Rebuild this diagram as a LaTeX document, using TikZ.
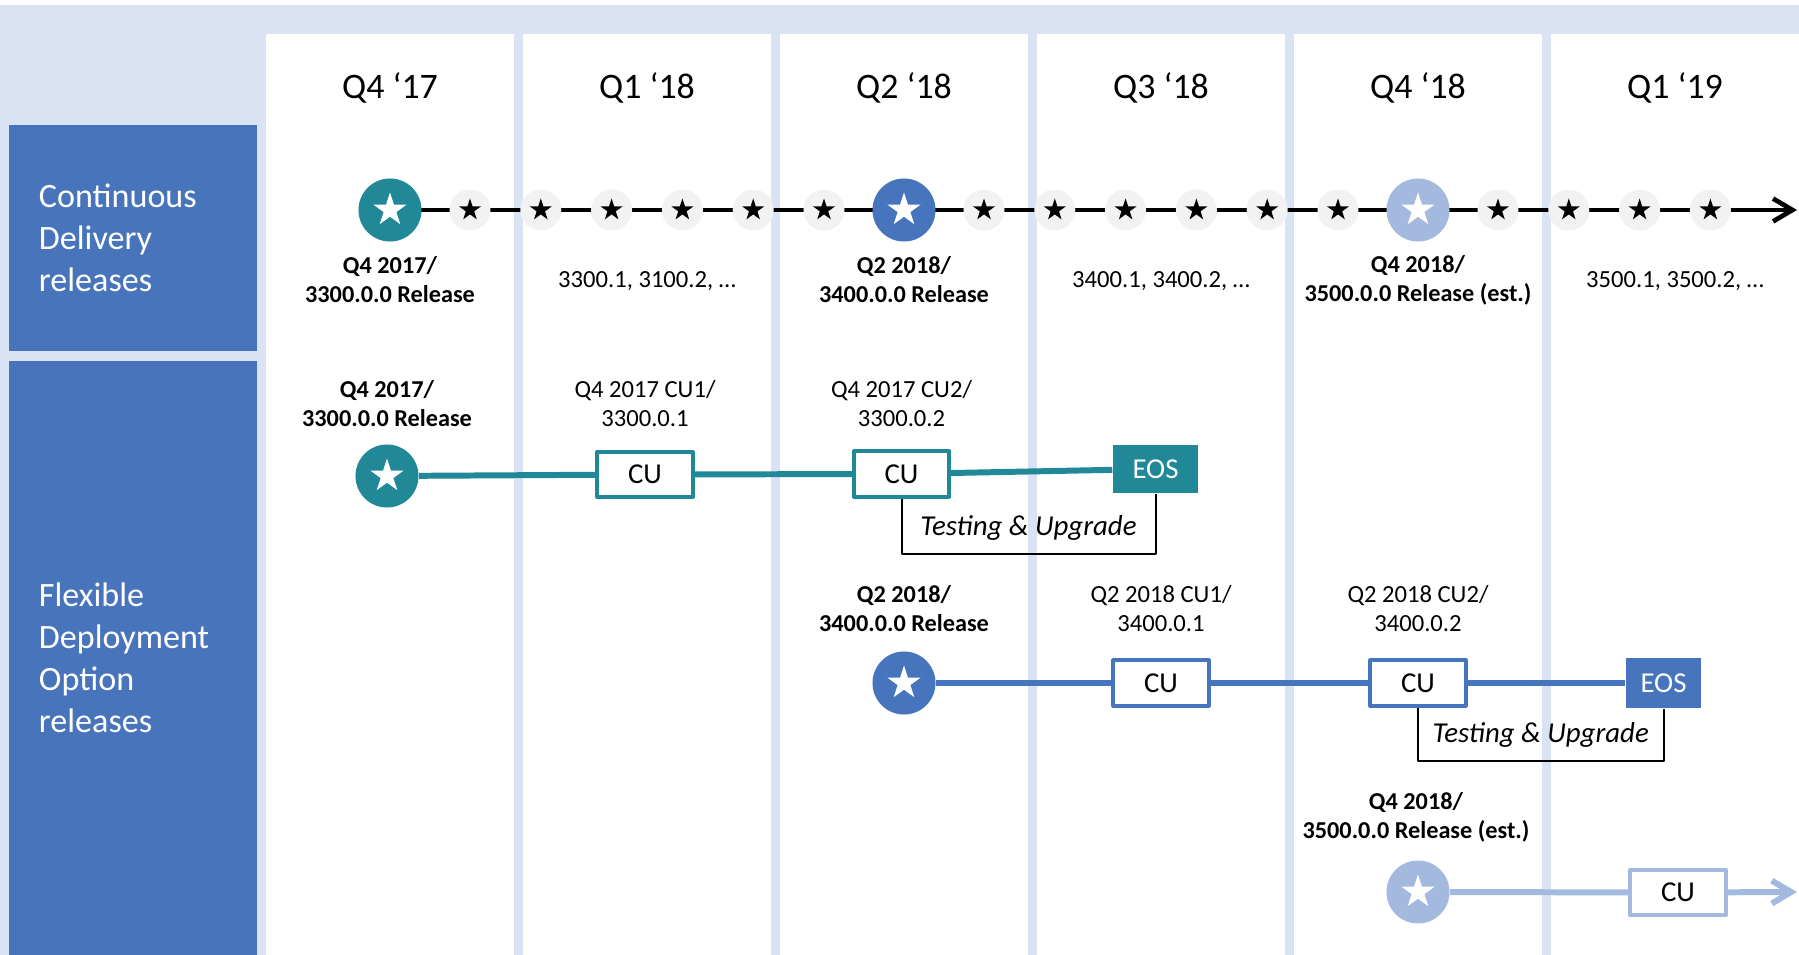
\documentclass[tikz,border=0pt]{standalone}
\usepackage{fontspec}
\setmainfont{Carlito}
\usetikzlibrary{shapes.geometric,arrows.meta}

\definecolor{paleblue}{RGB}{218,227,243}
\definecolor{laneblue}{RGB}{72,116,188}
\definecolor{tealrel}{RGB}{33,136,151}
\definecolor{bluerel}{RGB}{71,117,189}
\definecolor{lightrel}{RGB}{163,185,222}
\definecolor{dotgrey}{RGB}{242,242,242}

\begin{document}
\begin{tikzpicture}[
	x=0.01cm, y=-0.01cm,
	>={Straight Barb[length=5.5pt,width=6.5pt]},
	line join=round,
	quarter/.style={font=\fontsize{10.2}{12}\selectfont},
	lanebox/.style={fill=laneblue, text=white, minimum width=2.48cm, text width=1.88cm, inner xsep=0.3cm, align=left, font=\fontsize{9.7}{11.95}\selectfont},
	relstar/.style={star, star points=5, star point ratio=2.618, inner sep=0pt, fill=#1},
	bigrel/.style={circle, fill=#1, minimum size=0.63cm, inner sep=0pt, path picture={\node[relstar=white, minimum size=0.35cm] at (path picture bounding box.center) {};}},
	minirel/.style={circle, fill=dotgrey, minimum size=0.41cm, inner sep=0pt, path picture={\node[relstar=black, minimum size=0.23cm] at (path picture bounding box.center) {};}},
	cubox/.style={draw=#1, line width=1.14pt, fill=white, minimum width=0.95cm, minimum height=0.45cm, inner sep=0pt, font=\fontsize{8.2}{10}\selectfont},
	eosbox/.style={fill=#1, text=white, inner sep=0pt, font=\fontsize{8.2}{10}\selectfont},
	relnote/.style={align=center, font=\fontsize{7}{8.25}\selectfont},
	keynote/.style={align=center, font=\fontsize{6.9}{8.25}\selectfont\bfseries},
	upgrade/.style={font=\fontsize{8.2}{10}\selectfont\itshape, inner sep=3.5pt},
	cdline/.style={line width=1.33pt},
	laneline/.style={draw=#1, line width=1.7pt},
	bracket/.style={line width=0.57pt}
	]
	\useasboundingbox (0,0) rectangle (1799,955);
	\fill[white] (0,0) rectangle (1799,955);
	\fill[paleblue] (0,5) rectangle (1799,955);
	% quarters
	\foreach \qname [count=\i from 0] in {Q4 ‘17,Q1 ‘18,Q2 ‘18,Q3 ‘18,Q4 ‘18,Q1 ‘19} {
		\fill[white] ({266+257*\i},34) rectangle +(248,921);
		\node[quarter] (q\i) at ({390+257*\i},88) {\qname};
	}
	% lanes
	\node[lanebox, minimum height=2.26cm] (cdlane) at (133,238) {Continuous\\Delivery\\releases};
	\node[lanebox, minimum height=5.94cm] (fdlane) at (133,658) {Flexible\\Deployment\\Option\\releases};

	% continuous delivery
	\coordinate (cdstart) at (390,210);
	\coordinate (cdend) at (1797,210);
	\draw[cdline,->] (cdstart) -- (cdend);
	\foreach \b/\n in {390/6,904/6,1418/4} {
		\foreach \k in {1,...,\n}
			\node[minirel] (m\b-\k) at ({\b+80+70.8*(\k-1)},210) {};
	}
	\node[bigrel=tealrel] (cd1) at (390,210) {};
	\node[bigrel=bluerel] (cd2) at (904,210) {};
	\node[bigrel=lightrel] (cd3) at (1418,210) {};
	\node[keynote] (cd1note) at (390,280) {Q4 2017/\\3300.0.0 Release};
	\node[relnote] (cd1cu) at (647,281) {3300.1, 3100.2, …};
	\node[keynote] (cd2note) at (904,280) {Q2 2018/\\3400.0.0 Release};
	\node[relnote] (cd2cu) at (1161,281) {3400.1, 3400.2, …};
	\node[keynote] (cd3note) at (1418,280) {Q4 2018/\\3500.0.0 Release (est.)};
	\node[relnote] (cd3cu) at (1675,281) {3500.1, 3500.2, …};

	% flexible deployment, 3300
	\node[bigrel=tealrel] (fa0) at (387,476) {};
	\node[cubox=tealrel] (fa1) at (645,474.5) {CU};
	\node[cubox=tealrel] (fa2) at (901.5,474) {CU};
	\node[eosbox=tealrel, minimum width=0.85cm, minimum height=0.48cm] (fa3) at (1155.5,469) {EOS};
	\draw[laneline=tealrel] (fa0) -- (fa1) -- (fa2) -- (fa3);
	\node[keynote] (fa0note) at (387,404) {Q4 2017/\\3300.0.0 Release};
	\node[relnote] (fa1note) at (645,404) {Q4 2017 CU1/\\3300.0.1};
	\node[relnote] (fa2note) at (901.5,404) {Q4 2017 CU2/\\3300.0.2};
	\coordinate (fab1) at (fa2.south |- 0,554);
	\coordinate (fab2) at (fa3.south |- 0,554);
	\draw[bracket] (fa2.south) -- (fab1) -- node[upgrade,above] (faup) {Testing \& Upgrade} (fab2) -- (fa3.south);

	% flexible deployment, 3400
	\node[bigrel=bluerel] (fb0) at (904,683) {};
	\node[cubox=bluerel] (fb1) at (1161,683) {CU};
	\node[cubox=bluerel] (fb2) at (1418,683) {CU};
	\node[eosbox=bluerel, minimum width=0.75cm, minimum height=0.50cm] (fb3) at (1663.5,683) {EOS};
	\draw[laneline=bluerel] (fb0) -- (fb1) -- (fb2) -- (fb3);
	\node[keynote] (fb0note) at (904,609) {Q2 2018/\\3400.0.0 Release};
	\node[relnote] (fb1note) at (1161,609) {Q2 2018 CU1/\\3400.0.1};
	\node[relnote] (fb2note) at (1418,609) {Q2 2018 CU2/\\3400.0.2};
	\coordinate (fbb1) at (fb2.south |- 0,761);
	\coordinate (fbb2) at (fb3.south |- 0,761);
	\draw[bracket] (fb2.south) -- (fbb1) -- node[upgrade,above] (fbup) {Testing \& Upgrade} (fbb2) -- (fb3.south);

	% flexible deployment, 3500
	\node[bigrel=lightrel] (fc0) at (1418,892) {};
	\node[cubox=lightrel] (fc1) at (1678,892.5) {CU};
	\coordinate (fcend) at (1797,892);
	\draw[laneline=lightrel] (fc0) -- (fc1);
	\draw[laneline=lightrel,->] (fc1) -- (fcend);
	\node[keynote] (fc0note) at (1416,817) {Q4 2018/\\3500.0.0 Release (est.)};
\end{tikzpicture}
\end{document}
